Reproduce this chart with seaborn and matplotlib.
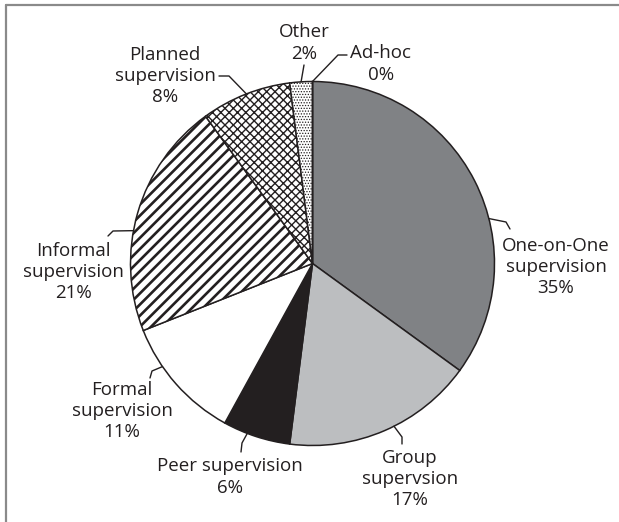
import numpy as np
import matplotlib
matplotlib.use("Agg")
import matplotlib.pyplot as plt
import seaborn as sns
from matplotlib.lines import Line2D

# ---- data ----
categories = ["One-on-One\nsupervision", "Group\nsupervsion", "Peer supervision",
              "Formal\nsupervision", "Informal\nsupervision", "Planned\nsupervision",
              "Other", "Ad-hoc"]
values = [35, 17, 6, 11, 21, 8, 2, 0]
pct_labels = ["35%", "17%", "6%", "11%", "21%", "8%", "2%", "0%"]

# ---- styling ----
fills = ["#808285", "#bcbec0", "#231f20", "#ffffff", "#ffffff", "#ffffff", "#ffffff", "#ffffff"]
hatches = [None, None, None, None, "///", "xxxx", "......", None]
hatch_lw = [1.0, 1.0, 1.0, 1.0, 1.9, 1.0, 0.6, 1.0]
edge = "#231f20"
text_color = "#231f20"

sns.set_theme(style="white")
plt.rcParams["font.family"] = ["Open Sans", "DejaVu Sans"]
plt.rcParams["hatch.linewidth"] = 1.2

W, H = 619, 522
fig = plt.figure(figsize=(W / 100, H / 100), dpi=100)
ax = fig.add_axes([0, 0, 1, 1])

cx, cy_top, R = 312.5, 263.5, 182.0
cy = H - cy_top

wedges, _ = ax.pie(values, startangle=90, counterclock=False, colors=fills,
                   center=(cx, cy), radius=R,
                   wedgeprops=dict(edgecolor=edge, linewidth=1.1))
for w, h, lw in zip(wedges, hatches, hatch_lw):
    if h:
        w.set_hatch(h)
        if hasattr(w, "set_hatch_linewidth"):
            w.set_hatch_linewidth(lw)

ax.set_xlim(0, W)
ax.set_ylim(0, H)
ax.set_aspect("equal")
ax.axis("off")

# label layout: text centre (px from top-left), leader start angle (deg clockwise from top),
# then leader elbow points (px from top-left)
label_xy = [(556, 267), (410, 479), (230, 477), (122, 411), (73, 272), (165, 76), (304, 43), (381, 64)]
leader_angle = [75.7, 153.4, 201.0, 235.5, 280.4, 338.7, 356.4, 0.0]
leader_pts = [
    [(506, 222), (510, 229)],
    [(402, 437), (402, 444)],
    [(242, 443), (241, 452)],
    [(152, 371), (150, 378)],
    [(113, 231), (108, 236)],
    [(229, 76), (219, 76)],
    [(304, 65)],
    [(338, 55), (347, 55)],
]

for cat, pct, (tx, ty), ang, pts in zip(categories, pct_labels, label_xy, leader_angle, leader_pts):
    ax.text(tx, H - ty, f"{cat}\n{pct}", ha="center", va="center", multialignment="center",
            fontsize=13.5, color=text_color, linespacing=1.22)
    a = np.deg2rad(ang)
    sx, sy = cx + R * np.sin(a), cy + R * np.cos(a)
    xs = [sx] + [p[0] for p in pts]
    ys = [sy] + [H - p[1] for p in pts]
    ax.plot(xs, ys, color=edge, lw=1.0, solid_joinstyle="round")

# partial frame (top and left)
frame_c = "#8a8a8a"
fig.add_artist(Line2D([6 / W, 1], [1 - 5 / H, 1 - 5 / H], color=frame_c, lw=1.6, transform=fig.transFigure))
fig.add_artist(Line2D([6 / W, 6 / W], [0, 1 - 5 / H], color=frame_c, lw=1.6, transform=fig.transFigure))

fig.savefig("out.png", dpi=100, facecolor="white")
